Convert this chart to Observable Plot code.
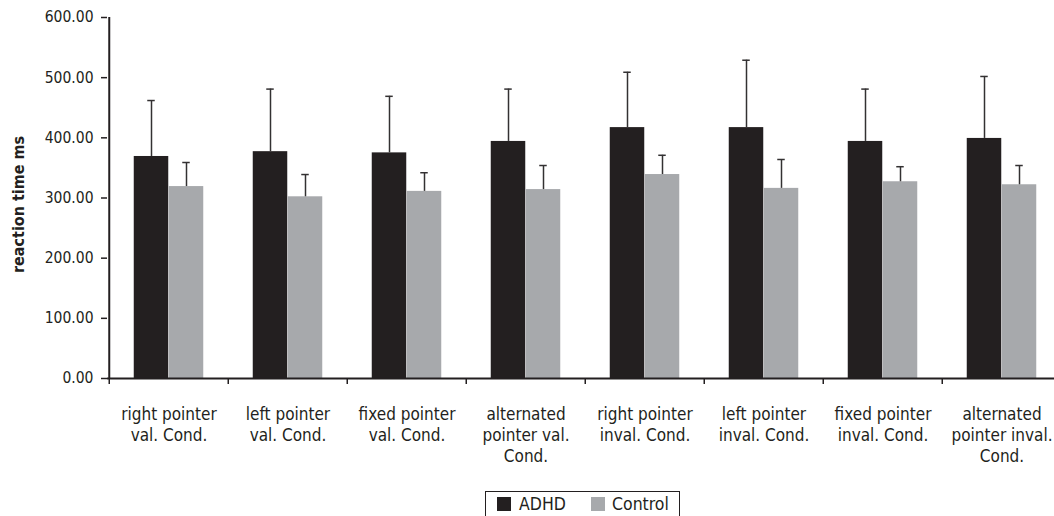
<!DOCTYPE html>
<html><head><meta charset="utf-8">
<script src="https://cdn.jsdelivr.net/npm/d3@7"></script>
<script src="https://cdn.jsdelivr.net/npm/@observablehq/plot@0.6"></script>
<style>
body{margin:0;background:#fff;font-family:"DejaVu Sans Condensed","DejaVu Sans",sans-serif;font-stretch:condensed;color:#231f20}
#chart svg{display:block}
#legend{position:relative;margin-left:485px;margin-top:9px;width:195px;height:32px;border:1px solid #231f20;box-sizing:border-box;font-size:17.5px}
#legend .sw{position:absolute;top:5px;width:14px;height:14px}
#legend .lb{position:absolute;top:0px;line-height:24px}
</style>
</head><body>
<div id="chart"></div>
<div id="legend">
  <div class="sw" style="left:11px;background:#231f20"></div><div class="lb" style="left:33px">ADHD</div>
  <div class="sw" style="left:105px;background:#a7a9ac"></div><div class="lb" style="left:126px">Control</div>
</div>
<script>
const categories = [
  "right pointer\nval. Cond.",
  "left pointer\nval. Cond.",
  "fixed pointer\nval. Cond.",
  "alternated\npointer val.\nCond.",
  "right pointer\ninval. Cond.",
  "left pointer\ninval. Cond.",
  "fixed pointer\ninval. Cond.",
  "alternated\npointer inval.\nCond."
];
const adhdMean = [369, 377, 375, 394, 417, 417, 394, 399];
const adhdSD   = [93, 104, 94, 87, 92, 112, 87, 103];
const controlMean = [319, 302, 311, 314, 339, 316, 327, 322];
const controlSD   = [40, 37, 31, 40, 32, 48, 25, 32];
const yTicks = [0, 100, 200, 300, 400, 500, 600];
const yTitle = "reaction time ms";

const adhdRows = categories.map((c, i) => ({cat: c, mean: adhdMean[i], sd: adhdSD[i]}));
const controlRows = categories.map((c, i) => ({cat: c, mean: controlMean[i], sd: controlSD[i]}));

const dark = "#231f20", gray = "#a7a9ac", errC = "#333132";
const font = '"DejaVu Sans Condensed","DejaVu Sans",sans-serif';

const chart = Plot.plot({
  width: 1054, height: 482,
  marginLeft: 107, marginRight: -9, marginTop: 17, marginBottom: 104,
  style: {fontFamily: font, fontSize: "15px", color: dark, background: "#fff", fontStretch: "condensed"},
  x: {type: "band", domain: categories, padding: 0, label: null},
  y: {domain: [0, 600], label: null},
  marks: [
    Plot.barY(adhdRows, {x: "cat", y: "mean", fill: dark, insetLeft: 24.75, insetRight: 59.75}),
    Plot.barY(controlRows, {x: "cat", y: "mean", fill: gray, insetLeft: 59.75, insetRight: 24.75}),
    Plot.ruleX(adhdRows, {x: "cat", y1: "mean", y2: d => d.mean + d.sd, dx: -17.5, stroke: errC, strokeWidth: 1.5}),
    Plot.ruleX(controlRows, {x: "cat", y1: "mean", y2: d => d.mean + d.sd, dx: 17.5, stroke: errC, strokeWidth: 1.5}),
    Plot.tickY(adhdRows, {x: "cat", y: d => d.mean + d.sd, insetLeft: 38.25, insetRight: 73.25, stroke: errC, strokeWidth: 1.5}),
    Plot.tickY(controlRows, {x: "cat", y: d => d.mean + d.sd, insetLeft: 73.25, insetRight: 38.25, stroke: errC, strokeWidth: 1.5}),
    Plot.ruleY([0], {stroke: dark, strokeWidth: 2}),
    Plot.ruleX([categories[0]], {x: d => d, y1: 0, y2: 600, dx: -59.75, stroke: dark, strokeWidth: 2}),
    Plot.axisY({ticks: yTicks, tickFormat: d => d.toFixed(2), tickSize: 6, tickPadding: 8, label: null, stroke: dark, strokeWidth: 1.5, fontSize: 15.5, fill: dark}),
    Plot.axisX({tickSize: 6, text: null, dx: -59.75, label: null, stroke: dark, strokeWidth: 1.5}),
    Plot.axisX({tickSize: 0, tickPadding: 27, label: null, fontSize: 17, lineHeight: 1.22, fill: dark}),
    Plot.text([yTitle], {text: d => d, frameAnchor: "left", textAnchor: "middle", dx: -89, dy: 6.5, rotate: -90, fontWeight: "bold", fontSize: 16, fill: dark})
  ]
});
document.getElementById("chart").appendChild(chart);
</script>
</body></html>
